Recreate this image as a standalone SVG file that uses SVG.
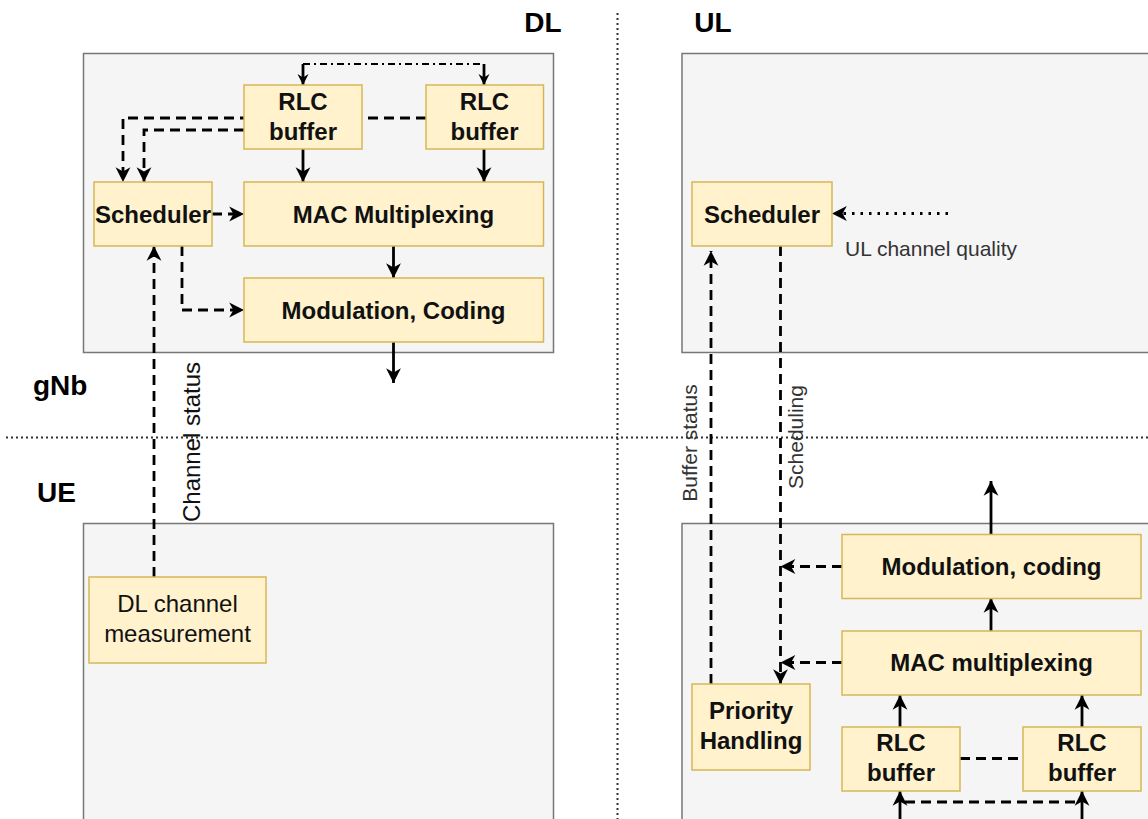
<svg xmlns="http://www.w3.org/2000/svg" width="1148" height="819" viewBox="0 0 1148 819">
<defs>
<style>
.cont{fill:#f5f5f5;stroke:#777;stroke-width:1.5}
.node{fill:#fff2cc;stroke:#d6b656;stroke-width:1.5}
.b{font-family:"Liberation Sans",Arial,sans-serif;font-weight:bold;font-size:24px;fill:#111;text-anchor:middle}
.r{font-family:"Liberation Sans",Arial,sans-serif;font-size:24px;fill:#111;text-anchor:middle}
.lbl{font-family:"Liberation Sans",Arial,sans-serif;font-size:21px;fill:#333}
.big{font-family:"Liberation Sans",Arial,sans-serif;font-weight:bold;font-size:28px;fill:#000}
.sep{fill:none;stroke:#333;stroke-width:2;stroke-dasharray:2 3}
.solid{fill:none;stroke:#000;stroke-width:2.8}
.dash{fill:none;stroke:#000;stroke-width:2.8;stroke-dasharray:10 6}
.dot{fill:none;stroke:#000;stroke-width:2.8;stroke-dasharray:2.5 6}
.dashdot{fill:none;stroke:#000;stroke-width:2.2;stroke-dasharray:7 4 2 4}
</style>
<marker id="arr" markerUnits="userSpaceOnUse" markerWidth="18" markerHeight="18" viewBox="-15 -8 17 16" refX="0" refY="0" orient="auto">
<path d="M0,0 L-14,-7 L-10,0 L-14,7 Z" fill="#000"/>
</marker>
<marker id="arrs" markerUnits="userSpaceOnUse" markerWidth="14" markerHeight="14" viewBox="-12 -7 14 14" refX="0" refY="0" orient="auto">
<path d="M0,0 L-11,-5.5 L-7.5,0 L-11,5.5 Z" fill="#000"/>
</marker>
</defs>
<rect width="1148" height="819" fill="#fff"/>

<g id="containers">
<rect id="dl-gnb" class="cont" x="83.5" y="53.5" width="470" height="299"/>
<rect id="ul-gnb" class="cont" x="682" y="53.5" width="480" height="299"/>
<rect id="dl-ue" class="cont" x="83.5" y="523.5" width="470" height="310"/>
<rect id="ul-ue" class="cont" x="682" y="523.5" width="480" height="310"/>
</g>

<g id="separators">
<line class="sep" x1="6" y1="437.5" x2="1148" y2="437.5"/>
<line class="sep" x1="617.5" y1="13" x2="617.5" y2="819"/>
</g>

<g id="section-labels">
<text class="big" x="543" y="32" text-anchor="middle">DL</text>
<text class="big" x="713" y="32" text-anchor="middle">UL</text>
<text class="big" x="33" y="395">gNb</text>
<text class="big" x="37" y="502">UE</text>
</g>

<g id="connectors">
<!-- DL -->
<path class="dashdot" d="M303,64 H484"/>
<path class="solid" d="M303,64 V85" marker-end="url(#arrs)"/>
<path class="solid" d="M484,64 V85" marker-end="url(#arrs)"/>
<path class="dash" d="M426,118 H123 V182" marker-end="url(#arr)"/>
<path class="dash" d="M244,130 H144 V182" marker-end="url(#arr)"/>
<path class="solid" d="M303,149 V182" marker-end="url(#arr)"/>
<path class="solid" d="M484,149 V182" marker-end="url(#arr)"/>
<path class="dash" d="M212,214 H244" marker-end="url(#arr)"/>
<path class="solid" d="M393.5,246 V278" marker-end="url(#arr)"/>
<path class="dash" d="M182,246 V310 H244" marker-end="url(#arr)"/>
<path class="solid" d="M393.5,342 V383" marker-end="url(#arr)"/>
<path class="dash" d="M154,577 V246" marker-end="url(#arr)"/>
<!-- UL -->
<path class="dot" d="M948,213.5 H832" marker-end="url(#arr)"/>
<path class="dash" d="M711,684 V251" marker-end="url(#arr)"/>
<path class="dash" d="M780.5,246 V684" marker-end="url(#arr)"/>
<path class="solid" d="M991,534 V481" marker-end="url(#arr)"/>
<path class="solid" d="M991,631 V598" marker-end="url(#arr)"/>
<path class="dash" d="M842,566.5 H780.5" marker-end="url(#arr)"/>
<path class="dash" d="M842,662.5 H780.5" marker-end="url(#arr)"/>
<path class="solid" d="M900,727 V695" marker-end="url(#arr)"/>
<path class="solid" d="M1082,727 V695" marker-end="url(#arr)"/>
<path class="dash" d="M960,758.5 H1023"/>
<path class="solid" d="M900,830 V791" marker-end="url(#arr)"/>
<path class="solid" d="M1082,830 V791" marker-end="url(#arr)"/>
<path class="dash" d="M905,802 H1078"/>
</g>

<g id="connector-labels">
<text class="r" transform="translate(200,442) rotate(-90)">Channel status</text>
<text class="lbl" text-anchor="middle" transform="translate(697,443) rotate(-90)">Buffer status</text>
<text class="lbl" text-anchor="middle" transform="translate(803,437) rotate(-90)">Scheduling</text>
<text class="lbl" x="845" y="256">UL channel quality</text>
</g>

<g id="dl-rlc1"><rect class="node" x="244" y="85" width="118" height="64"/><text class="b" x="303" y="110">RLC</text><text class="b" x="303" y="140">buffer</text></g>
<g id="dl-rlc2"><rect class="node" x="426" y="85" width="117.5" height="64"/><text class="b" x="484.5" y="110">RLC</text><text class="b" x="484.5" y="140">buffer</text></g>
<g id="dl-scheduler"><rect class="node" x="94" y="182" width="118" height="64"/><text class="b" x="153" y="222.5">Scheduler</text></g>
<g id="dl-mac"><rect class="node" x="244" y="182" width="299.5" height="64"/><text class="b" x="393.5" y="222.5">MAC Multiplexing</text></g>
<g id="dl-mod"><rect class="node" x="244" y="278" width="299.5" height="64"/><text class="b" x="393.5" y="318.5">Modulation, Coding</text></g>
<g id="dl-meas"><rect class="node" x="89" y="577" width="177" height="86"/><text class="r" x="177.5" y="612">DL channel</text><text class="r" x="177.5" y="642">measurement</text></g>

<g id="ul-scheduler"><rect class="node" x="692" y="182" width="140" height="64"/><text class="b" x="762" y="222.5">Scheduler</text></g>
<g id="ul-mod"><rect class="node" x="842" y="534.5" width="299" height="64"/><text class="b" x="991.5" y="575">Modulation, coding</text></g>
<g id="ul-mac"><rect class="node" x="842" y="631" width="299" height="64"/><text class="b" x="991.5" y="671">MAC multiplexing</text></g>
<g id="ul-priority"><rect class="node" x="692" y="684" width="118" height="86"/><text class="b" x="751" y="719">Priority</text><text class="b" x="751" y="749">Handling</text></g>
<g id="ul-rlc1"><rect class="node" x="842" y="727" width="118" height="64"/><text class="b" x="901" y="751">RLC</text><text class="b" x="901" y="781">buffer</text></g>
<g id="ul-rlc2"><rect class="node" x="1023" y="727" width="118" height="64"/><text class="b" x="1082" y="751">RLC</text><text class="b" x="1082" y="781">buffer</text></g>
</svg>
